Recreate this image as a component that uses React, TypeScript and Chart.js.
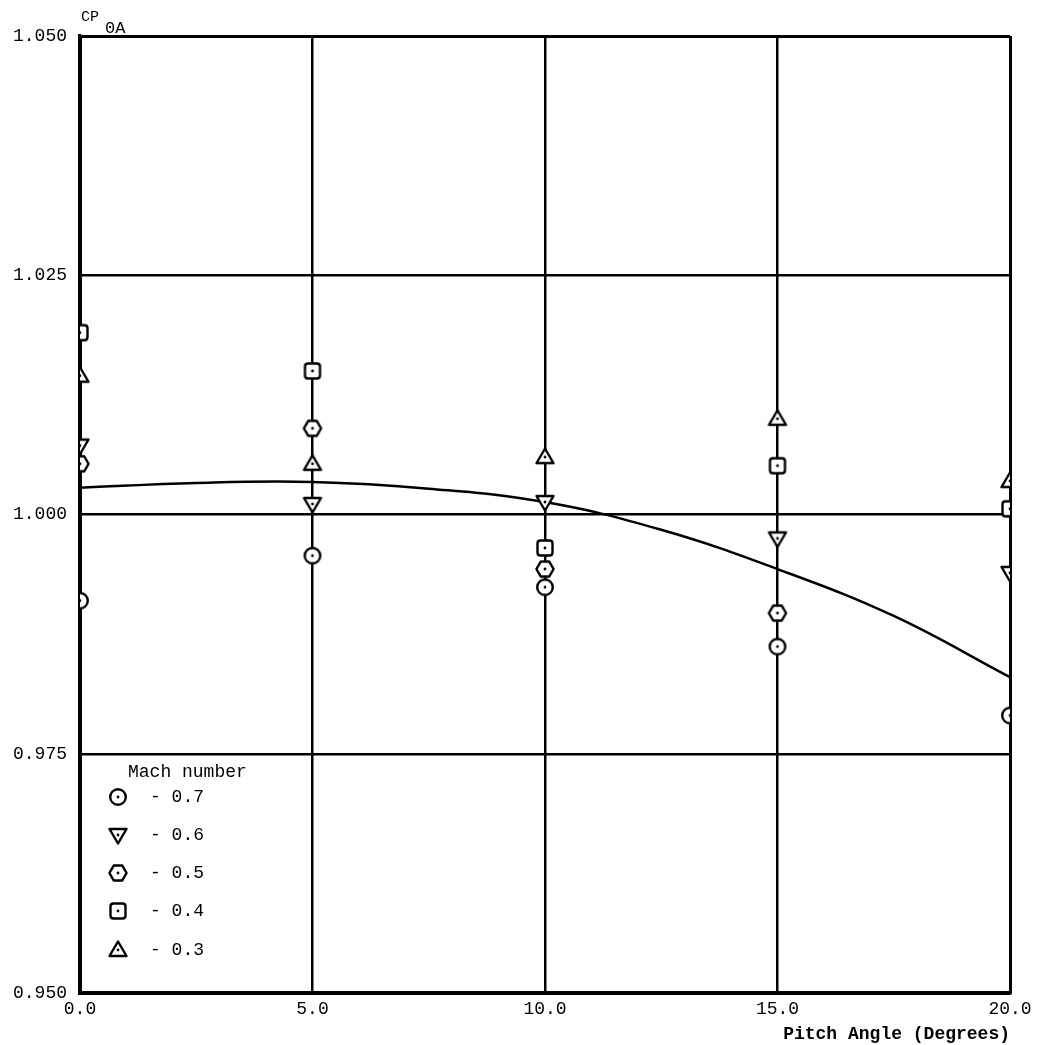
import React, { useEffect, useRef } from "react";
import { Chart, registerables } from "chart.js";

Chart.register(...registerables);

const pitchAngles = [0, 5, 10, 15, 20];
const mach07 = [0.991, 0.9957, 0.9924, 0.9862, 0.979];
const mach06 = [1.0072, 1.0011, 1.0013, 0.9975, 0.9939];
const mach05 = [1.0053, 1.009, 0.9943, 0.9897, null];
const mach04 = [1.019, 1.015, 0.9965, 1.0051, 1.0006];
const mach03 = [1.0145, 1.0053, 1.006, 1.01, 1.0035];

const fitAngles = [0, 2.5, 5, 7.5, 10, 12.5, 15, 17.5, 20];
const fitValues = [1.0028, 1.0033, 1.0034, 1.0027, 1.0013, 0.9984, 0.9943, 0.9894, 0.983];

const legendLabels = ["- 0.7", "- 0.6", "- 0.5", "- 0.4", "- 0.3"];
const markerKinds = ["circle", "triDown", "hexagon", "square", "triUp"];

const FONT = "'Liberation Mono', 'DejaVu Sans Mono', monospace";

function makeMarker(kind: string): HTMLCanvasElement {
  const c = document.createElement("canvas");
  c.width = 24;
  c.height = 24;
  const g = c.getContext("2d")!;
  g.strokeStyle = "#000";
  g.fillStyle = "#fff";
  g.lineWidth = 2.4;
  g.lineJoin = "round";
  const cx = 12, cy = 12;
  g.beginPath();
  if (kind === "circle") {
    g.arc(cx, cy, 7.8, 0, Math.PI * 2);
  } else if (kind === "triDown") {
    g.moveTo(cx - 8.5, cy - 6);
    g.lineTo(cx + 8.5, cy - 6);
    g.lineTo(cx, cy + 8.5);
    g.closePath();
  } else if (kind === "triUp") {
    g.moveTo(cx - 8.5, cy + 6);
    g.lineTo(cx + 8.5, cy + 6);
    g.lineTo(cx, cy - 8.5);
    g.closePath();
  } else if (kind === "hexagon") {
    for (let i = 0; i < 6; i++) {
      const a = (Math.PI / 3) * i;
      const px = cx + 8.6 * Math.cos(a);
      const py = cy + 8.6 * Math.sin(a);
      if (i === 0) g.moveTo(px, py);
      else g.lineTo(px, py);
    }
    g.closePath();
  } else {
    const s = 7.5, r = 3;
    g.moveTo(cx - s + r, cy - s);
    g.lineTo(cx + s - r, cy - s);
    g.quadraticCurveTo(cx + s, cy - s, cx + s, cy - s + r);
    g.lineTo(cx + s, cy + s - r);
    g.quadraticCurveTo(cx + s, cy + s, cx + s - r, cy + s);
    g.lineTo(cx - s + r, cy + s);
    g.quadraticCurveTo(cx - s, cy + s, cx - s, cy + s - r);
    g.lineTo(cx - s, cy - s + r);
    g.quadraticCurveTo(cx - s, cy - s, cx - s + r, cy - s);
    g.closePath();
  }
  g.fill();
  g.stroke();
  g.fillStyle = "#000";
  g.beginPath();
  g.arc(cx, cy, 1.4, 0, Math.PI * 2);
  g.fill();
  return c;
}

export default function App() {
  const ref = useRef<HTMLCanvasElement | null>(null);

  useEffect(() => {
    document.body.style.margin = "0";
    const markers = markerKinds.map(makeMarker);
    const series = [mach07, mach06, mach05, mach04, mach03];

    const pointSets = series.map((vals, i) => ({
      type: "scatter" as const,
      label: legendLabels[i],
      data: pitchAngles
        .map((x, j) => ({ x, y: vals[j] }))
        .filter((p) => p.y !== null),
      pointStyle: markers[i],
      pointRadius: 9,
      showLine: false,
      clip: 0,
      order: 0,
    }));

    const fitSet = {
      type: "line" as const,
      label: "fit",
      data: fitAngles.map((x, j) => ({ x, y: fitValues[j] })),
      borderColor: "#000",
      borderWidth: 2.5,
      pointRadius: 0,
      tension: 0.4,
      fill: false,
      clip: 0,
      order: 1,
    };

    const overlay = {
      id: "overlay",
      afterDraw(chart: any) {
        const ctx = chart.ctx;
        ctx.save();
        ctx.fillStyle = "#000";
        ctx.textBaseline = "middle";
        ctx.textAlign = "left";
        ctx.font = `15px ${FONT}`;
        ctx.fillText("CP", 81, 17);
        ctx.font = `17px ${FONT}`;
        ctx.fillText("0A", 105, 28);
        ctx.font = `18px ${FONT}`;
        ctx.fillText("Mach number", 128, 772);
        const rows = [797, 835, 873, 911, 950];
        rows.forEach((y, i) => {
          ctx.drawImage(markers[i], 118 - 12, y - 12);
          ctx.fillText(legendLabels[i], 150, y);
        });
        ctx.restore();
      },
    };

    const gridWidth = (c: any) => (c.index === 0 || c.index === 4 ? 3 : 2.5);

    const chart = new Chart(ref.current!, {
      type: "scatter",
      data: { datasets: [...pointSets, fitSet] as any },
      options: {
        animation: false,
        responsive: false,
        layout: { padding: { top: 36, right: 31, left: 0, bottom: 0 } },
        plugins: { legend: { display: false }, tooltip: { enabled: false } },
        scales: {
          x: {
            type: "linear",
            min: 0,
            max: 20,
            ticks: {
              stepSize: 5,
              color: "#000",
              font: { family: FONT, size: 18 },
              padding: 5,
              callback: (v: any) => Number(v).toFixed(1),
            },
            grid: { color: "#000", lineWidth: gridWidth, drawTicks: false },
            border: { color: "#000", width: 3.5 },
            title: {
              display: true,
              text: "Pitch Angle (Degrees)",
              align: "end",
              color: "#000",
              font: { family: FONT, size: 18, weight: "bold" },
              padding: { top: 0, bottom: 0 },
            },
            afterFit: (s: any) => {
              s.height = 52;
            },
          },
          y: {
            type: "linear",
            min: 0.95,
            max: 1.05,
            ticks: {
              stepSize: 0.025,
              color: "#000",
              font: { family: FONT, size: 18 },
              padding: 13,
              callback: (v: any) => Number(v).toFixed(3),
            },
            grid: { color: "#000", lineWidth: gridWidth, drawTicks: false },
            border: { color: "#000", width: 3.5 },
            afterFit: (s: any) => {
              s.width = 80;
            },
          },
        },
      },
      plugins: [overlay],
    });
    return () => chart.destroy();
  }, []);

  return <canvas ref={ref} width={1041} height={1045} style={{ display: "block" }} />;
}
